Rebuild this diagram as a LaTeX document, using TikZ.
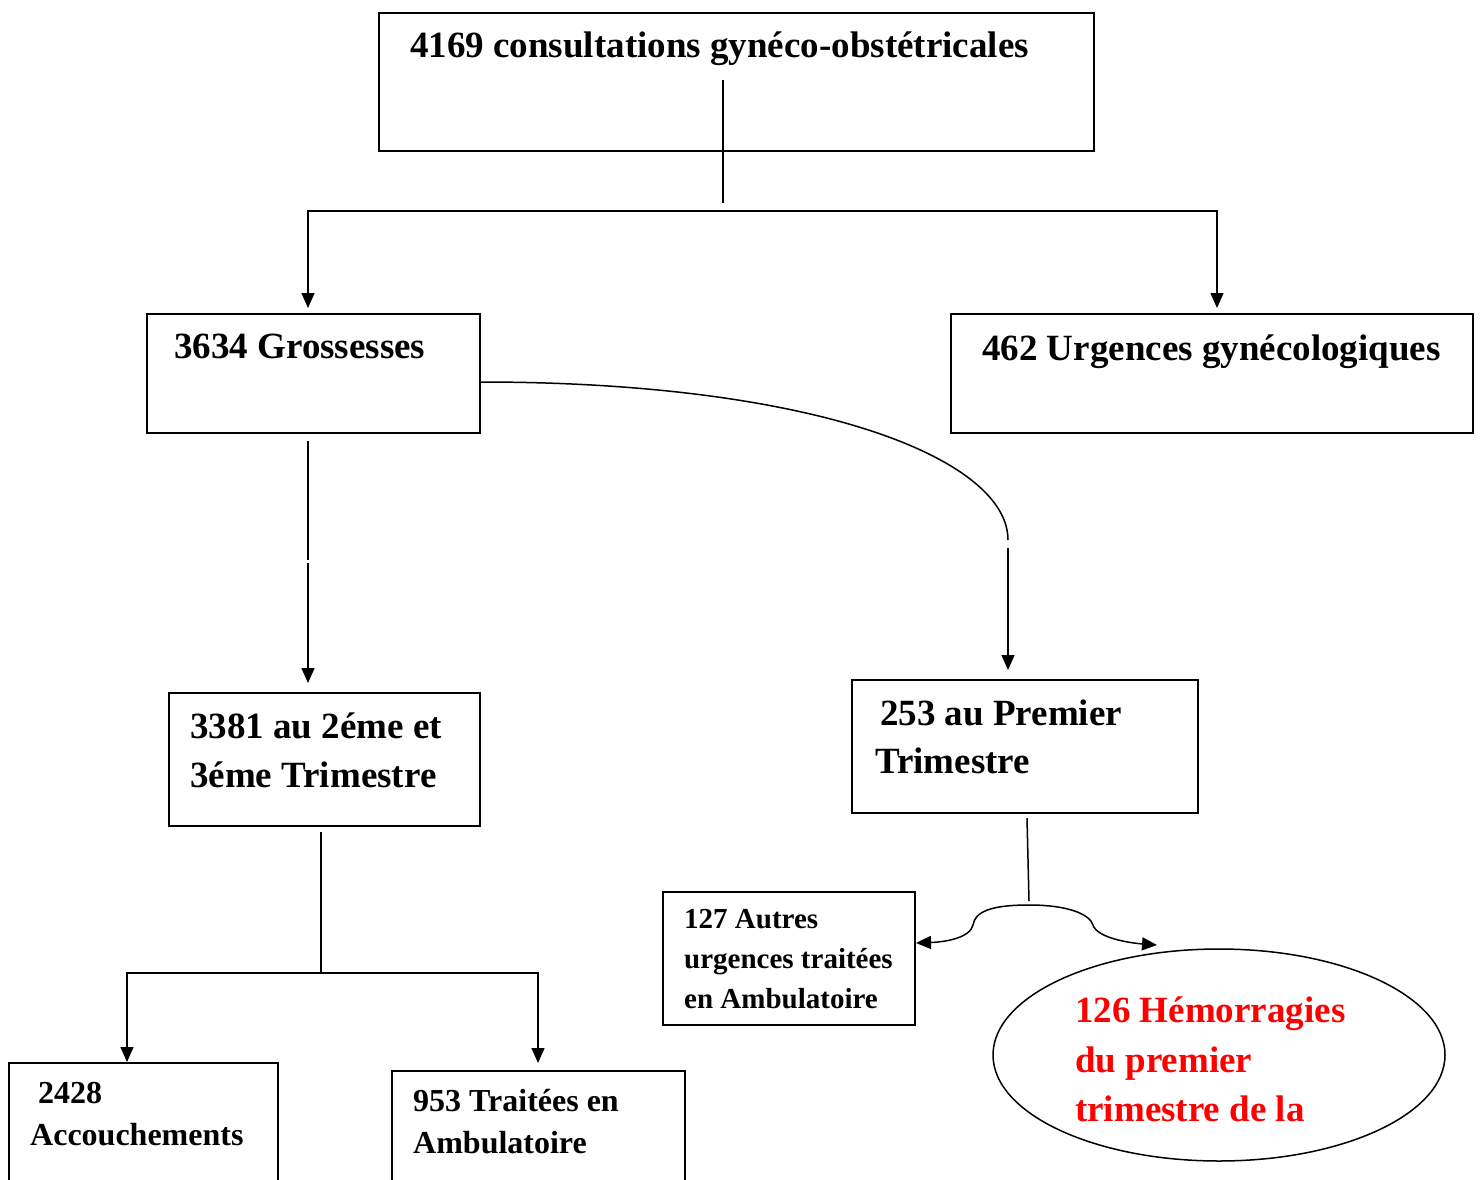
\documentclass[tikz,border=0pt]{standalone}
\usepackage{fontspec}
\setmainfont{Liberation Serif}
\usetikzlibrary{arrows.meta}
\begin{document}
\begin{tikzpicture}[x=1pt,y=-1pt,
  box/.style={draw,line width=1.6pt,inner sep=0pt},
  conn/.style={line width=1.5pt},
  arr/.style={conn,-{Triangle[length=15pt,width=13pt]}},
  big/.style={anchor=base west,inner sep=0pt,font=\fontsize{37}{49}\selectfont\bfseries},
  mid/.style={anchor=base west,inner sep=0pt,font=\fontsize{32}{42}\selectfont\bfseries},
  small/.style={anchor=base west,inner sep=0pt,font=\fontsize{29}{40}\selectfont\bfseries}]
\useasboundingbox (0,0) rectangle (1480,1180);
\clip (0,0) rectangle (1480,1180);
% boxes
\draw[box] (379,13) rectangle (1094,151);
\node[big] (t1) at (410,58) {4169 consultations gynéco-obstétricales};
\draw[box] (147,314) rectangle (480,433);
\node[big] (t2) at (174,358) {3634 Grossesses};
\draw[box] (951,314) rectangle (1473,433);
\node[big] (t3) at (982,360) {462 Urgences gynécologiques};
\draw[box] (169,693) rectangle (480,826);
\node[big] (t4a) at (190,738) {3381 au 2éme et};
\node[big] (t4b) at (190,787) {3éme Trimestre};
\draw[box] (852,680) rectangle (1198,813);
\node[big] (t5a) at (880,725) {253 au Premier};
\node[big] (t5b) at (875,773) {Trimestre};
\draw[box] (9,1063) rectangle (278,1200);
\node[mid] (t6a) at (38,1103) {2428};
\node[mid] (t6b) at (30,1145) {Accouchements};
\draw[box] (392,1071) rectangle (685,1200);
\node[mid] (t7a) at (413,1111) {953 Traitées en};
\node[mid] (t7b) at (413,1153) {Ambulatoire};
\draw[box] (663,892) rectangle (915,1025);
\node[small] (t8a) at (684,928) {127 Autres};
\node[small] (t8b) at (684,968) {urgences traitées};
\node[small] (t8c) at (684,1008) {en Ambulatoire};
\draw[line width=1.5pt] (1219,1055) ellipse [x radius=226, y radius=106];
\node[big,text=red] (t9a) at (1075,1022) {126 Hémorragies};
\node[big,text=red] (t9b) at (1075,1072) {du premier};
\node[big,text=red] (t9c) at (1075,1121) {trimestre de la};
% connectors
\draw[conn] (723,80) -- (723,203);
\draw[conn] (308,211) -- (1217,211);
\draw[arr] (308,210) -- (308,308);
\draw[arr] (1217,210) -- (1217,308);
\draw[conn] (308,441) -- (308,560);
\draw[arr] (308,563) -- (308,683);
\draw[conn] (480,382) .. controls (820,382) and (1008,460) .. (1008,540);
\draw[arr] (1008,548) -- (1008,670);
\draw[conn] (321,832) -- (321,974);
\draw[conn] (127,973) -- (538,973);
\draw[arr] (127,972) -- (127,1062);
\draw[arr] (538,972) -- (538,1063);
\draw[conn] (1027,818) -- (1029,901);
\draw[arr] (1029,905) .. controls (990,905) and (975,912) .. (973,925) .. controls (970,938) and (945,942) .. (916,943);
\draw[arr] (1029,905) .. controls (1070,905) and (1090,915) .. (1093,925) .. controls (1097,938) and (1130,943) .. (1157,945);
\end{tikzpicture}
\end{document}
